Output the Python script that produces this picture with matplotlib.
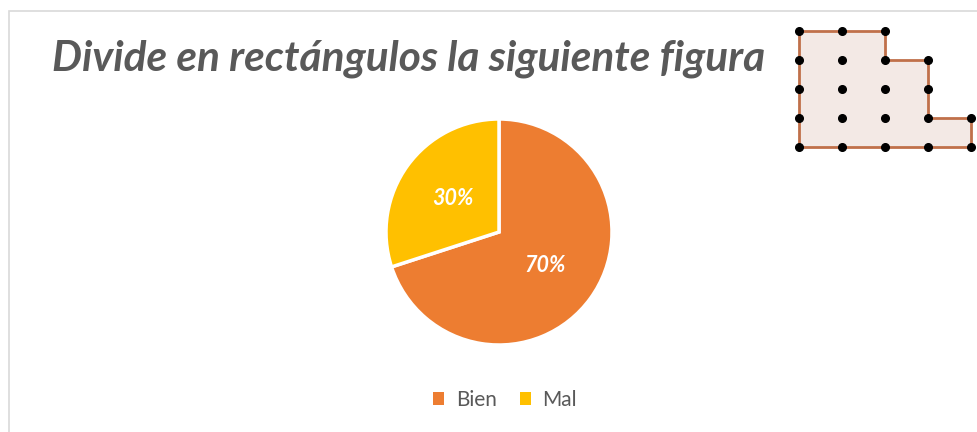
import matplotlib.pyplot as plt
from matplotlib.patches import Rectangle, Polygon

# Datos del gráfico
categorias = ['Bien', 'Mal']
valores = [70, 30]
colores = ['#ED7D31', '#FFC000']
titulo = 'Divide en rectángulos la siguiente figura'

# Figura de la cuadrícula (columna, fila) con fila 0 arriba
contorno = [(0, 0), (2, 0), (2, 1), (3, 1), (3, 3), (4, 3), (4, 4), (0, 4)]
puntos = [(0, 0), (1, 0), (2, 0),
          (0, 1), (1, 1), (2, 1), (3, 1),
          (0, 2), (1, 2), (2, 2), (3, 2),
          (0, 3), (1, 3), (2, 3), (3, 3), (4, 3),
          (0, 4), (1, 4), (2, 4), (3, 4), (4, 4)]

W, H = 978, 432
fig = plt.figure(figsize=(W / 100, H / 100), dpi=100)
fuente = 'Lato'
gris = '#595959'

# marco del gráfico
fig.patches.append(Rectangle((9 / W, -0.1), 1.2, 1 - 11 / H + 0.1, transform=fig.transFigure,
                             fill=False, edgecolor='#D9D9D9', linewidth=1.2))

fig.text(52 / W, 1 - 59 / H, titulo, fontsize=30.5, fontweight='bold', style='italic',
         color=gris, family=fuente, va='center', ha='left')

# pastel
cx, cy, r = 499, 232, 113
ax = fig.add_axes([(cx - r) / W, 1 - (cy + r) / H, 2 * r / W, 2 * r / H])
wedges, _, autotexts = ax.pie(valores, colors=colores, startangle=90, counterclock=False,
                              autopct='%1.0f%%', pctdistance=0.5,
                              wedgeprops=dict(edgecolor='white', linewidth=2.5))
for t in autotexts:
    t.set_color('white')
    t.set_fontweight('bold')
    t.set_style('italic')
    t.set_fontsize(15.5)
    t.set_family(fuente)
ax.set_xlim(-1, 1)
ax.set_ylim(-1, 1)

leg = fig.legend(wedges, categorias, loc='center', bbox_to_anchor=(505 / W, 1 - 400 / H),
                 ncol=2, frameon=False, handlelength=0.55, handleheight=0.55,
                 handletextpad=0.55, columnspacing=1.1,
                 prop=dict(family=fuente, size=15))
for t in leg.get_texts():
    t.set_color(gris)
for h in leg.legend_handles:
    h.set_linewidth(0)

# figura de la cuadrícula
ax2 = fig.add_axes([799 / W, 1 - 147 / H, 172 / W, 116 / H])
ax2.add_patch(Polygon(contorno, closed=True, facecolor='#F3E9E5', edgecolor='#C0704A',
                      linewidth=2, clip_on=False))
xs = [p[0] for p in puntos]
ys = [p[1] for p in puntos]
ax2.plot(xs, ys, 'o', color='black', markersize=5.5, clip_on=False)
ax2.set_xlim(0, 4)
ax2.set_ylim(4, 0)
ax2.axis('off')

fig.savefig('out.png', dpi=100)
